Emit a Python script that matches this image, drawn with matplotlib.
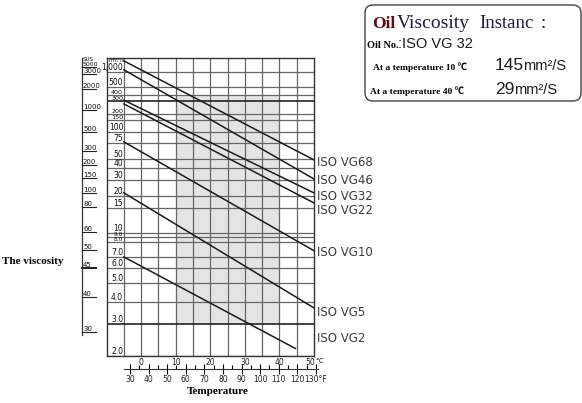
import numpy as np
import matplotlib.pyplot as plt
from matplotlib.patches import FancyBboxPatch, Rectangle
from matplotlib.transforms import blended_transform_factory

# chart data
grades = ['ISO VG68', 'ISO VG46', 'ISO VG32', 'ISO VG22', 'ISO VG10', 'ISO VG5', 'ISO VG2']
t_start = [-5, -5, -5, -5, -5, -5, -5]
t_end = [50, 50, 50, 50, 50, 50, 44.6]
v_start = [1660, 1100, 310, 273, 77, 21.6, 7.0]
v_end = [48.8, 30.7, 21.6, 16.9, 7.4, 3.7, 2.2]

# viscosity scale (mm2/s) as printed on the chart
visc_ticks = [2, 3, 4, 5, 6, 7, 8, 9, 10, 15, 20, 30, 40, 50, 75, 100, 150, 200, 300, 400, 500, 1000]
visc_labels = ['2.0', '3.0', '4.0', '5.0', '6.0', '7.0', '8.0', '9.0', '10', '15', '20', '30',
               '40', '50', '75', '100', '150', '200', '300', '400', '500', '1,000']
visc_rows = [356, 324, 302, 283, 268, 257, 242, 237, 233, 208, 196, 180, 168, 159, 143, 132,
             120, 114, 101, 95, 87, 72]

# SUS column (labels and the mm2/s they line up with)
sus_labels = ['5000', '3000', '2000', '1000', '500', '300', '200', '150', '100', '80', '60',
              '50', '45', '40', '30']
sus_cst = [1260, 900, 472, 226, 100, 61, 43, 31.5, 21.6, 15.4, 10.2, 7.45, 6.0, 4.25, 2.71]

temp_c = [0, 10, 20, 30, 40]
temp_f = [30, 40, 50, 60, 70, 80, 90, 100, 110, 120]

shade_t = (10, 40)
shade_v = (3, 400)

W, H = 582, 403
fig = plt.figure(figsize=(W / 100, H / 100), dpi=100)
SERIF = ['Liberation Serif', 'Noto Sans CJK SC', 'DejaVu Sans']

L = np.log10(visc_ticks)
U = -np.array(visc_rows, dtype=float)
s_lo = (U[1] - U[0]) / (L[1] - L[0])
s_hi = (U[-1] - U[-2]) / (L[-1] - L[-2])


def fwd(v):
    lv = np.log10(np.clip(np.asarray(v, dtype=float), 1e-6, None))
    out = np.interp(lv, L, U)
    out = np.where(lv < L[0], U[0] + (lv - L[0]) * s_lo, out)
    out = np.where(lv > L[-1], U[-1] + (lv - L[-1]) * s_hi, out)
    return out


def inv(u):
    u = np.asarray(u, dtype=float)
    out = np.interp(u, U, L)
    out = np.where(u < U[0], L[0] + (u - U[0]) / s_lo, out)
    out = np.where(u > U[-1], L[-1] + (u - U[-1]) / s_hi, out)
    return 10 ** out


ax = fig.add_axes([107 / W, 1 - 356 / H, 207 / W, 298 / H])
ax.set_yscale('function', functions=(fwd, inv))
ax.set_xlim(-9.9, 50)
ax.set_ylim(2, 1900)

ax.add_patch(Rectangle((shade_t[0], shade_v[0]), shade_t[1] - shade_t[0],
                       shade_v[1] - shade_v[0], facecolor='#e4e4e4', edgecolor='none', zorder=0))

for t in range(-5, 50, 5):
    ax.axvline(t, color='#666666', lw=0.9, zorder=1)
for v in visc_ticks:
    dark = v in (300, 3)
    ax.axhline(v, color='#222222' if dark else '#666666', lw=1.2 if dark else 0.9, zorder=1)

for g, t0, t1, v0, v1 in zip(grades, t_start, t_end, v_start, v_end):
    ax.plot([t0, t1], [v0, v1], color='#1a1a1a', lw=1.1, zorder=3)

# labels in the scale column (some rows sit very close together)
small = {8: 4.2, 9: 4.2, 150: 4.6, 200: 4.6, 300: 4.6, 400: 4.6}
for v, lab in zip(visc_ticks, visc_labels):
    ax.text(-5.2, v, lab, fontsize=small.get(v, 5.5), ha='right', va='bottom', color='#111111')
ax.text(-9.6, 1750, 'mm²/s', fontsize=3.5, ha='left', va='center', color='#111111')

ax.set_xticks([])
ax.set_yticks([])
ax.minorticks_off()
for s in ax.spines.values():
    s.set_color('#333333')
    s.set_linewidth(1)

# celsius labels
ctr = blended_transform_factory(ax.transData, ax.transAxes)
for t in temp_c:
    ax.text(t, -0.008, str(t), transform=ctr, fontsize=5.5, ha='center', va='top', color='#222222')
ax.text(48.8, -0.008, '50', transform=ctr, fontsize=5.5, ha='center', va='top', color='#222222')
ax.text(50.3, -0.008, '℃', transform=ctr, fontsize=5, ha='left', va='top', color='#222222',
        family=['DejaVu Sans', 'Noto Sans CJK SC'])

# fahrenheit axis
axf = fig.add_axes([124 / W, 1 - 369 / H, 194 / W, 0.0001])
axf.set_xlim(26.8, 131.1)
for s in ['top', 'left', 'right']:
    axf.spines[s].set_visible(False)
axf.spines['bottom'].set_color('#333333')
axf.set_yticks([])
axf.set_xticks(temp_f + [130])
axf.set_xticklabels([str(f) for f in temp_f] + ['130°F'], fontsize=5.5, color='#222222')
axf.set_xticks([f + 5 for f in temp_f], minor=True)
axf.tick_params(axis='x', which='major', direction='inout', length=7, width=0.8, pad=0.5)
axf.tick_params(axis='x', which='minor', direction='in', length=3, width=0.8)

# SUS column
sus_tr = blended_transform_factory(fig.transFigure, ax.transData)
ax.plot([82 / W, 82 / W], [2.6, 1900], transform=sus_tr, color='#333333', lw=0.9, clip_on=False)
ax.text(83 / W, 1950, 'SUS', transform=sus_tr, fontsize=4, ha='left', va='top', color='#111111')
for lab, v in zip(sus_labels, sus_cst):
    fs = 4.5 if lab == '5000' else 5
    ax.text(83 / W, v, lab, transform=sus_tr, fontsize=fs, ha='left', va='bottom', color='#111111')
    lw = 1.4 if lab == '45' else 0.8
    ax.plot([82 / W, 96 / W], [v, v], transform=sus_tr, color='#222222', lw=lw, clip_on=False)

fig.text(2 / W, 1 - 262 / H, 'The viscosity', fontsize=8, family=SERIF,
         weight='bold', ha='left', va='center')
fig.text(218 / W, 1 - 392 / H, 'Temperature', fontsize=8, family=SERIF,
         weight='bold', ha='center', va='center')

# decorations in pixel space
deco = fig.add_axes([0, 0, 1, 1], facecolor='none')
deco.set_xlim(0, W)
deco.set_ylim(H, 0)
deco.axis('off')

label_rows = [162, 180, 196, 210, 253, 313, 338]
for g, y in zip(grades, label_rows):
    deco.text(317, y, g, fontsize=8.5, color='#3a3a3a', va='center', ha='left')

deco.add_patch(FancyBboxPatch((367, 7), 212, 92, boxstyle='round,pad=2,rounding_size=8',
                              facecolor='white', edgecolor='#444444', lw=1))
deco.text(372, 28, 'Oil', fontsize=12.5, family=SERIF, weight='bold',
          color='#5c0f14', va='baseline')
deco.text(397, 28, 'Viscosity', fontsize=14, family=SERIF, color='#1c1c3a', va='baseline')
deco.text(479, 28, 'Instanc', fontsize=13.5, family=SERIF, color='#1c1c3a', va='baseline')
deco.text(541, 28, ':', fontsize=13.5, family=SERIF, color='#1c1c3a', va='baseline')
deco.text(367, 48, 'Oil No.', fontsize=7.5, family=SERIF, weight='bold', va='baseline')
deco.text(398, 48, ':ISO VG 32', fontsize=10.5, family='Liberation Sans', va='baseline',
          color='#1a1a1a')
for x0, y, tt, val in [(373, 70, '10', '145'), (370, 94, '40', '29')]:
    deco.text(x0, y, 'At a temperature ' + tt + ' ℃', fontsize=6.8, family=SERIF,
              weight='bold', va='baseline')
    deco.text(495, y, val, fontsize=12.5, family='Liberation Sans', va='baseline', color='#1a1a1a')
    deco.text(495 + 9.5 * len(val), y, 'mm²/S', fontsize=10.5, family='Liberation Sans',
              va='baseline', color='#1a1a1a')

fig.savefig('out.png', dpi=100)
